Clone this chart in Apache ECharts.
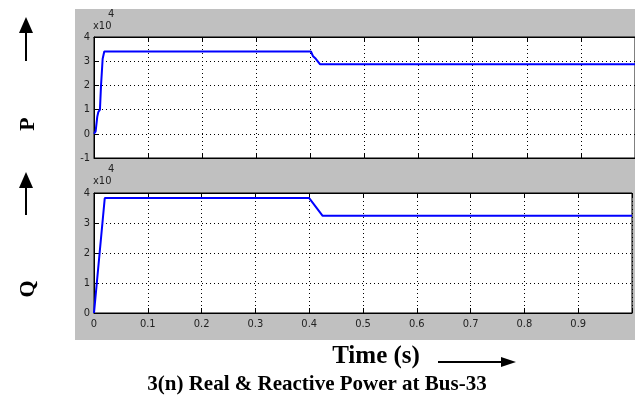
<!DOCTYPE html>
<html><head><meta charset="utf-8">
<script src="https://cdn.jsdelivr.net/npm/echarts@6/dist/echarts.min.js"></script>
<style>
html,body{margin:0;padding:0;background:#fff;}
#wrap{position:relative;width:635px;height:406px;overflow:hidden;}
#gray{position:absolute;left:75px;top:9px;width:560px;height:331px;background:#c0c0c0;}
#chart{position:absolute;left:0;top:0;width:635px;height:406px;}
</style></head>
<body><div id="wrap"><div id="gray"></div><div id="chart"></div></div>
<script>
// Time (s) and values (W / VAr)
const timeP = [0, 0.003, 0.006, 0.008, 0.011, 0.013, 0.016, 0.019, 0.401, 0.405, 0.410, 0.413, 0.418, 1.0];
const realP = [0, 1000, 7000, 9000, 10000, 20000, 31000, 34000, 34000, 32000, 31000, 30500, 28700, 28700];
const timeQ = [0, 0.02, 0.40, 0.425, 1.0];
const reactQ = [0, 38300, 38300, 32400, 32400];
const xTicks = [0, 0.1, 0.2, 0.3, 0.4, 0.5, 0.6, 0.7, 0.8, 0.9];
const yTicksP = [-1, 0, 1, 2, 3, 4];
const yTicksQ = [0, 1, 2, 3, 4];

const chart = echarts.init(document.getElementById('chart'), null, {renderer:'canvas'});
const tickFont = {fontFamily:"'DejaVu Sans Condensed','Liberation Sans Narrow','Liberation Sans',sans-serif", fontSize:11, color:'#222'};
const serif = "'Liberation Serif','Times New Roman',serif";
const smallFont = "11px 'DejaVu Sans Condensed','Liberation Sans Narrow',sans-serif";

function xAxisMain(gi, showLabels){
  return {type:'value', gridIndex:gi, min:0, max:1, interval:0.1, position:'bottom',
    axisLine:{show:true, onZero:false, lineStyle:{color:'#000', width:1}},
    axisTick:{show:true, inside:true, length:5, lineStyle:{color:'#000'}},
    axisLabel:Object.assign({show:showLabels, margin:6,
      formatter:v => (xTicks.indexOf(Math.round(v*10)/10) >= 0 ? String(Math.round(v*10)/10) : '')}, tickFont),
    splitLine:{show:true, lineStyle:{color:'#000', type:[1,3], width:1}}};
}
function xAxisTop(gi){
  return {type:'value', gridIndex:gi, min:0, max:1, interval:0.1, position:'top',
    axisLine:{show:true, onZero:false, lineStyle:{color:'#000'}},
    axisTick:{show:true, inside:true, length:5, lineStyle:{color:'#000'}},
    axisLabel:{show:false}, splitLine:{show:false}};
}
function yAxis(gi, min, max){
  return {type:'value', gridIndex:gi, min:min, max:max, interval:10000,
    axisLine:{show:true, onZero:false, lineStyle:{color:'#000'}},
    axisTick:{show:true, inside:true, length:5, lineStyle:{color:'#000'}},
    axisLabel:Object.assign({margin:4, formatter:v => String(Math.round(v/10000))}, tickFont),
    splitLine:{show:true, lineStyle:{color:'#000', type:[1,3], width:1}}};
}

const option = {
  animation:false,
  backgroundColor:'transparent',
  grid:[
    {left:94, top:37, width:542, height:121, show:true, backgroundColor:'#fff', borderColor:'#000', borderWidth:1},
    {left:94, top:193, width:542, height:120, show:true, backgroundColor:'#fff', borderColor:'#000', borderWidth:1}
  ],
  xAxis:[xAxisMain(0,false), xAxisTop(0), xAxisMain(1,true), xAxisTop(1)],
  yAxis:[yAxis(0,-10000,40000), yAxis(1,0,40000)],
  series:[
    {type:'line', xAxisIndex:0, yAxisIndex:0, data:timeP.map((t,i)=>[t,realP[i]]), showSymbol:false, symbol:'none',
     lineStyle:{color:'#0000ff', width:2}, clip:true},
    {type:'line', xAxisIndex:2, yAxisIndex:1, data:timeQ.map((t,i)=>[t,reactQ[i]]), showSymbol:false, symbol:'none',
     lineStyle:{color:'#0000ff', width:2}, clip:true}
  ],
  graphic:[
    // exponent labels
    {type:'text', left:93, top:21, style:{text:'x10', font:smallFont, fill:'#222'}},
    {type:'text', left:108, top:9, style:{text:'4', font:smallFont, fill:'#222'}},
    {type:'text', left:93, top:176, style:{text:'x10', font:smallFont, fill:'#222'}},
    {type:'text', left:108, top:164, style:{text:'4', font:smallFont, fill:'#222'}},
    // left arrows
    {type:'line', shape:{x1:26, y1:28, x2:26, y2:61}, style:{stroke:'#000', lineWidth:2}},
    {type:'polygon', shape:{points:[[26,17],[19,33],[33,33]]}, style:{fill:'#000'}},
    {type:'line', shape:{x1:26, y1:183, x2:26, y2:215}, style:{stroke:'#000', lineWidth:2}},
    {type:'polygon', shape:{points:[[26,172],[19,188],[33,188]]}, style:{fill:'#000'}},
    // P and Q labels
    {type:'text', x:28, y:124, rotation:Math.PI/2, style:{text:'P', font:"bold 22px "+serif, fill:'#000', textAlign:'center', textVerticalAlign:'middle'}},
    {type:'text', x:28, y:289, rotation:Math.PI/2, style:{text:'Q', font:"bold 22px "+serif, fill:'#000', textAlign:'center', textVerticalAlign:'middle'}},
    // Time label and arrow
    {type:'text', x:376, y:357, style:{text:'Time (s)', font:"bold 25px "+serif, fill:'#000', textAlign:'center', textVerticalAlign:'middle'}},
    {type:'line', shape:{x1:438, y1:362, x2:503, y2:362}, style:{stroke:'#000', lineWidth:2}},
    {type:'polygon', shape:{points:[[516,362],[501,357],[501,367]]}, style:{fill:'#000'}},
    // caption
    {type:'text', x:317, y:385, style:{text:'3(n) Real & Reactive Power at Bus-33', font:"bold 21px "+serif, fill:'#000', textAlign:'center', textVerticalAlign:'middle'}}
  ]
};
chart.setOption(option);
</script></body></html>
